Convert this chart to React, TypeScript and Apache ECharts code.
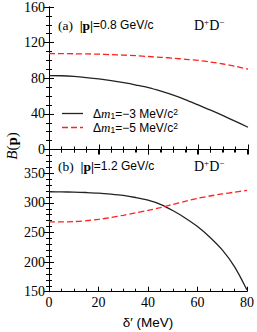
import React, { useEffect, useRef } from "react";
import * as echarts from "echarts";

const delta = [0, 5, 10, 15, 20, 25, 30, 35, 40, 45, 50, 55, 60, 65, 70, 75, 80];
const topSolid = [83, 82.8, 82, 80.8, 79.3, 77.3, 75, 72.4, 69.5, 65.5, 61, 55.8, 50, 44.2, 38, 31.5, 25];
const topDashed = [107.8, 107.7, 107.5, 107.3, 107, 106.5, 106, 105.3, 104.4, 103.5, 102.5, 101.3, 100, 98.2, 96, 93.3, 90.2];
const botSolid = [318.7, 318.5, 318, 317.4, 316.5, 314.8, 312.5, 309, 304.5, 297.5, 287, 274.5, 260, 242, 220.5, 192, 153];
const botDashed = [268, 267.8, 268.3, 269.8, 272, 275.3, 279, 283, 287.3, 292, 297.3, 302.5, 307.5, 311.5, 315, 318, 321];
const xTicks = [0, 20, 40, 60, 80];
const topTicks = [0, 40, 80, 120, 160];
const botTicks = [150, 200, 250, 300, 350];

const SERIF = "Liberation Serif";
const SANS = "Liberation Sans";

export default function App() {
  const ref = useRef<HTMLDivElement>(null);
  useEffect(() => {
    const chart = echarts.init(ref.current!, null, { renderer: "svg" });
    const L = 49, W = 199;
    const grids = [
      { left: L, top: 7, width: W, height: 142.5 },
      { left: L, top: 149.5, width: W, height: 142.2 },
    ];
    const axisLine = { show: true, lineStyle: { color: "#000", width: 1 } };
    const tick = { show: true, inside: true, length: 5, lineStyle: { color: "#000", width: 1 } };
    const minor = (n: number) => ({ show: true, splitNumber: n, length: 3, lineStyle: { color: "#000", width: 1 } });
    const lbl = { fontFamily: SERIF, fontSize: 14, color: "#000" };
    const xa = (gi: number, pos: string, showLabel: boolean) => ({
      type: "value", gridIndex: gi, position: pos, min: 0, max: 80, interval: 20,
      axisLine, axisTick: tick, minorTick: minor(4), splitLine: { show: false },
      axisLabel: showLabel ? { ...lbl, margin: 4, formatter: (v: number) => (xTicks.includes(v) ? String(v) : "") } : { show: false },
    });
    const ya = (gi: number, pos: string, min: number, max: number, interval: number, mn: number, ticks: number[], showLabel: boolean) => ({
      type: "value", gridIndex: gi, position: pos, min, max, interval,
      axisLine, axisTick: tick, minorTick: minor(mn), splitLine: { show: false },
      axisLabel: showLabel ? { ...lbl, margin: 4, formatter: (v: number) => (ticks.includes(v) ? String(v) : "") } : { show: false },
    });
    const pairs = (ys: number[]) => delta.map((d, i) => [d, ys[i]]);
    const solid = { color: "#222", width: 1.3, type: "solid" };
    const dashed = { color: "#ff2020", width: 1.3, type: [6, 3] };
    const mk = (name: string, xi: number, yi: number, ys: number[], ls: any) => ({
      name, type: "line", xAxisIndex: xi, yAxisIndex: yi, data: pairs(ys), showSymbol: false, symbol: "none",
      smooth: 0.3, lineStyle: ls, itemStyle: { color: ls.color }, z: 3,
    });
    const legendText = (x: number, y: number, val: string) => ({
      type: "text", x, y,
      style: {
        text: `{s|Δ}{i|m}{sub|1}{s|=−${val} MeV/c}{sup|2}`,
        verticalAlign: "middle",
        rich: {
          s: { fontFamily: SANS, fontSize: 12, fill: "#000", lineHeight: 11 },
          i: { fontFamily: SERIF, fontStyle: "italic", fontSize: 13, fill: "#000", lineHeight: 11 },
          sub: { fontFamily: SANS, fontSize: 8.5, fill: "#000", lineHeight: 11, padding: [4, 0, 0, 0] },
          sup: { fontFamily: SANS, fontSize: 8.5, fill: "#000", lineHeight: 11, padding: [0, 0, 4, 0] },
        },
      },
    });
    const panelLabel = (x: number, y: number, tag: string, p: string) => ({
      type: "text", x, y,
      style: {
        text: `{r|(${tag})}  {b||p|}{s|=${p} GeV/c}`,
        verticalAlign: "middle",
        rich: {
          r: { fontFamily: SERIF, fontSize: 13.5, fill: "#000" },
          b: { fontFamily: SERIF, fontWeight: "bold", fontSize: 13.5, fill: "#000" },
          s: { fontFamily: SANS, fontSize: 12, fill: "#000" },
        },
      },
    });
    const ddLabel = (x: number, y: number) => ({
      type: "text", x, y,
      style: {
        text: "{r|D}{sup|+}{r|D}{sup|−}",
        verticalAlign: "middle",
        rich: {
          r: { fontFamily: SERIF, fontSize: 14, fill: "#000" },
          sup: { fontFamily: SERIF, fontSize: 9, fill: "#000", padding: [0, 0, 7, 0] },
        },
      },
    });
    chart.setOption({
      animation: false,
      backgroundColor: "#fff",
      grid: grids,
      xAxis: [xa(0, "bottom", false), xa(0, "top", false), xa(1, "bottom", true), xa(1, "top", false)],
      yAxis: [
        ya(0, "left", 0, 160, 40, 4, topTicks, true),
        ya(0, "right", 0, 160, 40, 4, topTicks, false),
        ya(1, "left", 150, 390, 50, 5, botTicks, true),
        ya(1, "right", 150, 390, 50, 5, botTicks, false),
      ],
      series: [
        mk("a3", 0, 0, topSolid, solid),
        mk("a5", 0, 0, topDashed, dashed),
        mk("b3", 2, 2, botSolid, solid),
        mk("b5", 2, 2, botDashed, dashed),
      ],
      graphic: [
        panelLabel(58, 25, "a", "0.8"),
        ddLabel(194, 25),
        panelLabel(58, 166, "b", "1.2"),
        ddLabel(194, 166),
        { type: "line", shape: { x1: 62, y1: 113.5, x2: 83, y2: 113.5 }, style: { stroke: "#222", lineWidth: 1.3 } },
        { type: "line", shape: { x1: 62, y1: 127.5, x2: 83, y2: 127.5 }, style: { stroke: "#ff2020", lineWidth: 1.3, lineDash: [6, 3] } },
        legendText(93, 113.5, "3"),
        legendText(93, 127.5, "5"),
        {
          type: "text", x: 12, y: 146, rotation: Math.PI / 2,
          style: {
            text: "{i|B}{r|(}{b|p}{r|)}", align: "center", verticalAlign: "middle",
            rich: {
              i: { fontFamily: SERIF, fontStyle: "italic", fontSize: 15, fill: "#000" },
              r: { fontFamily: SERIF, fontSize: 15, fill: "#000" },
              b: { fontFamily: SERIF, fontWeight: "bold", fontSize: 15, fill: "#000" },
            },
          },
        },
        {
          type: "text", x: 148, y: 322,
          style: { text: "δ′ (MeV)", fontFamily: SANS, fontSize: 13.5, fill: "#000", align: "center", verticalAlign: "middle" },
        },
      ],
    });
    return () => chart.dispose();
  }, []);
  return <div ref={ref} style={{ width: 257, height: 332, position: "absolute", left: 0, top: 0 }} />;
}
